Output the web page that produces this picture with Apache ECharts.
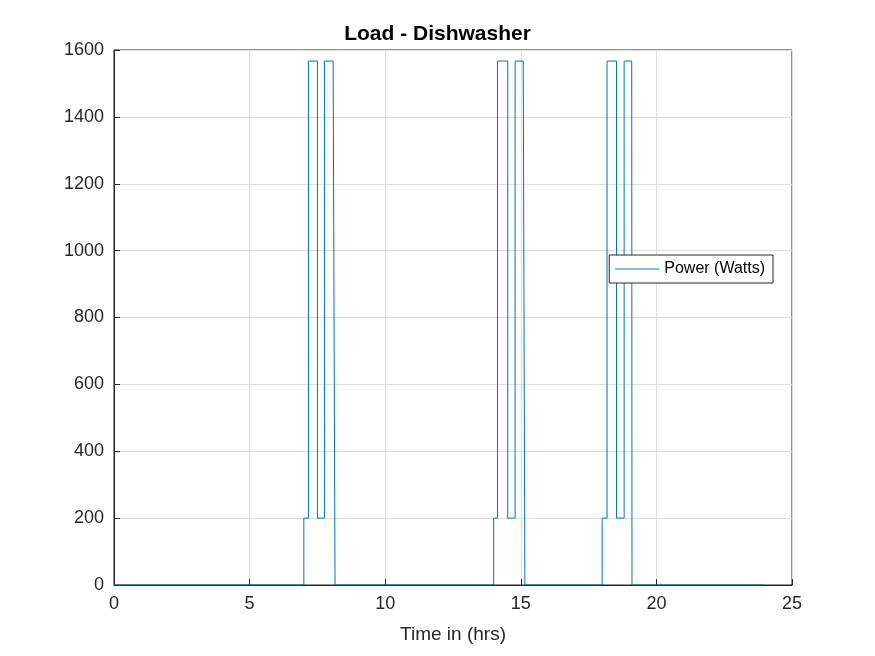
<!DOCTYPE html><html><head><meta charset="utf-8"><script src="https://cdn.jsdelivr.net/npm/echarts@6/dist/echarts.min.js"></script></head><body style="margin:0;background:#fff"><div id="c" style="width:875px;height:656px"></div><script>
const times=[0,7.0,7.0,7.17,7.17,7.5,7.5,7.76,7.76,8.08,8.15,14.0,14.0,14.14,14.14,14.52,14.52,14.79,14.79,15.09,15.15,18.0,18.0,18.18,18.18,18.53,18.53,18.81,18.81,19.09,19.1,24];
const power=[0,0,200,200,1567,1567,200,200,1567,1567,0,0,200,200,1567,1567,200,200,1567,1567,0,0,200,200,1567,1567,200,200,1567,1567,0,0];
const xTicks=[0,5,10,15,20,25];
const yTicks=[0,200,400,600,800,1000,1200,1400,1600];
const ch=echarts.init(document.getElementById('c'));
const font='Liberation Sans';
ch.setOption({
 animation:false,
 title:{text:'Load - Dishwasher',left:'center',top:19,textStyle:{fontFamily:font,fontSize:21,fontWeight:'bold',color:'#000'}},
 grid:{left:114,right:83,top:50,bottom:71,show:true,borderColor:'#262626',borderWidth:1},
 legend:{data:['Power (Watts)'],right:102,top:255,orient:'vertical',backgroundColor:'#fff',borderColor:'#262626',borderWidth:1,borderRadius:0,padding:[6,8,6,6],itemWidth:44,itemHeight:1,icon:'rect',textStyle:{fontFamily:font,fontSize:16,color:'#000'}},
 xAxis:{type:'value',min:0,max:25,interval:5,name:'Time in (hrs)',nameLocation:'middle',nameGap:40,nameTextStyle:{fontFamily:font,fontSize:19,color:'#262626'},
  axisLine:{lineStyle:{color:'#262626'}},axisTick:{inside:true,length:6,lineStyle:{color:'#262626'}},axisLabel:{fontFamily:font,fontSize:18,color:'#262626',margin:10},splitLine:{lineStyle:{color:'#dedede'}}},
 yAxis:{type:'value',min:0,max:1600,interval:200,axisLine:{show:true,lineStyle:{color:'#262626'}},axisTick:{show:true,inside:true,length:6,lineStyle:{color:'#262626'}},axisLabel:{fontFamily:font,fontSize:18,color:'#262626',margin:10,formatter:v=>String(v)},splitLine:{lineStyle:{color:'#dedede'}}},
 series:[{name:'Power (Watts)',type:'line',data:times.map((t,i)=>[t,power[i]]),showSymbol:false,lineStyle:{width:1,color:'#0072bd'},itemStyle:{color:'#0072bd'}}]
});
</script></body></html>
